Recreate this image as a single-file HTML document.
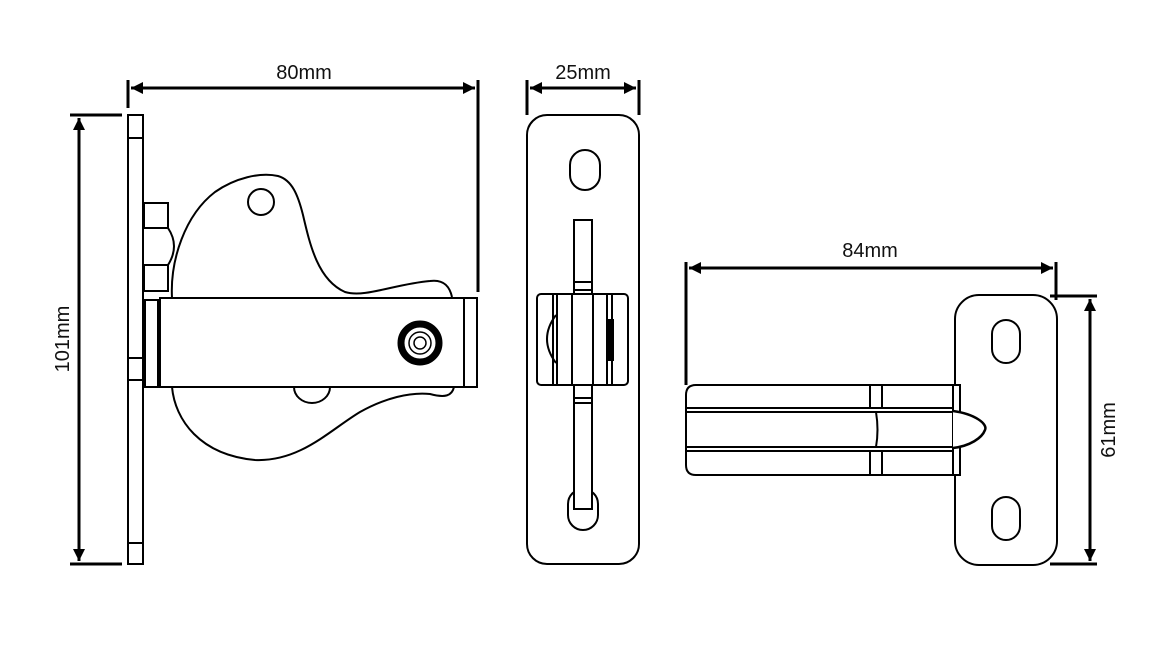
<!DOCTYPE html>
<html><head><meta charset="utf-8"><style>
html,body{margin:0;padding:0;background:#fff;}
svg{display:block;}
text{font-family:"Liberation Sans",sans-serif;font-size:20px;fill:#111;}
</style></head><body>
<svg width="1168" height="651" viewBox="0 0 1168 651" xmlns="http://www.w3.org/2000/svg">
<defs>
<marker id="a" viewBox="0 0 10 10" refX="10" refY="5" markerWidth="4" markerHeight="4" orient="auto-start-reverse">
<path d="M0,0 L10,5 L0,10 z" fill="#000"/></marker>
</defs>
<g fill="none" stroke="#000" stroke-width="2">
<!-- 80mm dim -->
<line x1="128" y1="80" x2="128" y2="108" stroke-width="3"/>
<line x1="478" y1="80" x2="478" y2="292" stroke-width="3"/>
<line x1="131" y1="88" x2="475" y2="88" stroke-width="3" marker-start="url(#a)" marker-end="url(#a)"/>
<!-- 101mm dim -->
<line x1="70" y1="115" x2="122" y2="115" stroke-width="3"/>
<line x1="70" y1="564" x2="122" y2="564" stroke-width="3"/>
<line x1="79" y1="118" x2="79" y2="561" stroke-width="3" marker-start="url(#a)" marker-end="url(#a)"/>
<!-- left view plate -->
<rect x="128" y="115" width="15" height="449"/>
<line x1="128" y1="138" x2="143" y2="138"/>
<line x1="128" y1="358" x2="143" y2="358"/>
<line x1="128" y1="380" x2="143" y2="380"/>
<line x1="128" y1="543" x2="143" y2="543"/>
<!-- nuts -->
<rect x="144" y="203" width="24" height="25"/>
<path d="M144,228 L168,228 Q180,246 168,265 L144,265"/>
<rect x="144" y="265" width="24" height="26"/>
<!-- cam -->
<path d="M172,298 C170,260 185,215 215,192 C235,178 260,172 278,176 C292,180 298,195 303,215 C310,245 318,280 345,292 C365,298 395,284 430,281 C445,279 450,288 452,297"/>
<circle cx="261" cy="202" r="13"/>
<path d="M172,387 C175,420 200,455 255,460 C300,462 330,430 360,412 C385,398 410,392 430,394 C445,398 452,396 454,387"/>
<path d="M294,387 A18,16 0 0 0 330,387"/>
<!-- bar -->
<rect x="145" y="300" width="15" height="87"/>
<line x1="158" y1="300" x2="158" y2="387"/>
<rect x="160" y="298" width="317" height="89" fill="#fff"/>
<line x1="464" y1="298" x2="464" y2="387"/>
<circle cx="420" cy="343" r="19" stroke-width="7"/>
<circle cx="420" cy="343" r="11" stroke-width="1.5"/>
<circle cx="420" cy="343" r="6" stroke-width="1.5"/>
<!-- 25mm dim -->
<line x1="527" y1="80" x2="527" y2="115" stroke-width="3"/>
<line x1="639" y1="80" x2="639" y2="115" stroke-width="3"/>
<line x1="530" y1="88" x2="636" y2="88" stroke-width="3" marker-start="url(#a)" marker-end="url(#a)"/>
<!-- middle view -->
<rect x="527" y="115" width="112" height="449" rx="20"/>
<rect x="570" y="150" width="30" height="40" rx="15"/>
<rect x="568" y="489" width="30" height="41" rx="15"/>
<rect x="574" y="220" width="18" height="74" fill="#fff"/>
<line x1="574" y1="282" x2="592" y2="282"/>
<line x1="574" y1="290" x2="592" y2="290"/>
<rect x="574" y="385" width="18" height="124" fill="#fff"/>
<line x1="574" y1="398" x2="592" y2="398"/>
<line x1="574" y1="403" x2="592" y2="403"/>
<rect x="537" y="294" width="91" height="91" rx="4" fill="#fff"/>
<line x1="553" y1="294" x2="553" y2="385"/>
<line x1="557" y1="294" x2="557" y2="385"/>
<line x1="572" y1="294" x2="572" y2="385"/>
<line x1="593" y1="294" x2="593" y2="385"/>
<line x1="607" y1="294" x2="607" y2="385"/>
<line x1="612" y1="294" x2="612" y2="385"/>
<path d="M556,315 Q538,339 556,363"/>
<rect x="608" y="320" width="5" height="40" fill="#000"/>
<!-- 84mm dim -->
<line x1="686" y1="262" x2="686" y2="385" stroke-width="3"/>
<line x1="1056" y1="262" x2="1056" y2="300" stroke-width="3"/>
<line x1="689" y1="268" x2="1053" y2="268" stroke-width="3" marker-start="url(#a)" marker-end="url(#a)"/>
<!-- 61mm dim -->
<line x1="1050" y1="296" x2="1097" y2="296" stroke-width="3"/>
<line x1="1050" y1="564" x2="1097" y2="564" stroke-width="3"/>
<line x1="1090" y1="299" x2="1090" y2="561" stroke-width="3" marker-start="url(#a)" marker-end="url(#a)"/>
<!-- right view -->
<rect x="955" y="295" width="102" height="270" rx="24"/>
<rect x="992" y="320" width="28" height="43" rx="14"/>
<rect x="992" y="497" width="28" height="43" rx="14"/>
<path d="M696,385 L960,385 L960,475 L696,475 Q686,475 686,465 L686,395 Q686,385 696,385 z" fill="#fff"/>
<line x1="686" y1="408" x2="953" y2="408"/>
<line x1="686" y1="412" x2="953" y2="412"/>
<line x1="686" y1="447" x2="953" y2="447"/>
<line x1="686" y1="451" x2="953" y2="451"/>
<line x1="870" y1="385" x2="870" y2="408"/>
<line x1="882" y1="385" x2="882" y2="408"/>
<line x1="870" y1="451" x2="870" y2="475"/>
<line x1="882" y1="451" x2="882" y2="475"/>
<path d="M876,412 Q879,430 876,447"/>
<line x1="953" y1="385" x2="953" y2="475"/>
<path d="M953,411 C975,414 988,424 985,430 C982,438 970,446 953,448" fill="#fff" stroke-width="2.5"/>
</g>
<text x="304" y="79" text-anchor="middle">80mm</text>
<text x="583" y="79" text-anchor="middle">25mm</text>
<text x="870" y="257" text-anchor="middle">84mm</text>
<text transform="translate(69,339) rotate(-90)" text-anchor="middle">101mm</text>
<text transform="translate(1115,430) rotate(-90)" text-anchor="middle">61mm</text>
</svg>
</body></html>
